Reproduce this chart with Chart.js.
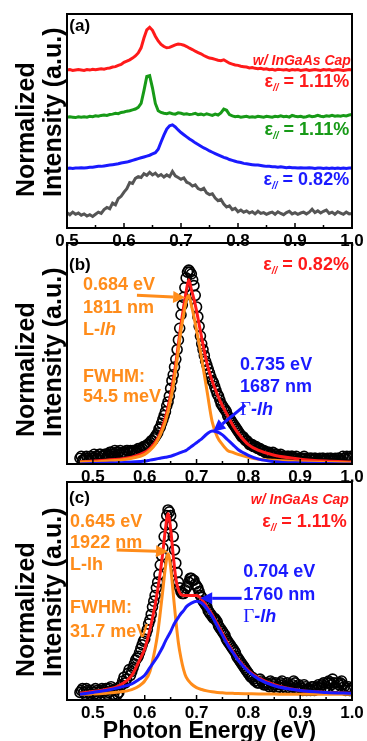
<!DOCTYPE html>
<html>
<head>
<meta charset="utf-8">
<script src="https://cdn.jsdelivr.net/npm/chart.js@4.4.1/dist/chart.umd.min.js"></script>
<style>
  html, body { margin: 0; padding: 0; background: #fff; }
  body { width: 367px; height: 741px; position: relative; overflow: hidden; }
  canvas { position: absolute; left: 0; }
</style>
</head>
<body>
<canvas id="panelA" width="367" height="260" style="top:0px"></canvas>
<canvas id="panelB" width="367" height="267" style="top:229px"></canvas>
<canvas id="panelC" width="367" height="290" style="top:468px"></canvas>
<script>
// ---- (a) PL spectra, normalized, stacked with offsets ----
const energyA = [
  0.500, 0.505, 0.510, 0.515, 0.520, 0.525, 0.530, 0.535, 0.540, 0.545,
  0.550, 0.555, 0.560, 0.565, 0.570, 0.575, 0.580, 0.585, 0.590, 0.595,
  0.600, 0.605, 0.610, 0.615, 0.620, 0.625, 0.630, 0.635, 0.640, 0.645,
  0.650, 0.655, 0.660, 0.665, 0.670, 0.675, 0.680, 0.685, 0.690, 0.695,
  0.700, 0.705, 0.710, 0.715, 0.720, 0.725, 0.730, 0.735, 0.740, 0.745,
  0.750, 0.755, 0.760, 0.765, 0.770, 0.775, 0.780, 0.785, 0.790, 0.795,
  0.800, 0.805, 0.810, 0.815, 0.820, 0.825, 0.830, 0.835, 0.840, 0.845,
  0.850, 0.855, 0.860, 0.865, 0.870, 0.875, 0.880, 0.885, 0.890, 0.895,
  0.900, 0.905, 0.910, 0.915, 0.920, 0.925, 0.930, 0.935, 0.940, 0.945,
  0.950, 0.955, 0.960, 0.965, 0.970, 0.975, 0.980, 0.985, 0.990, 0.995,
  1.000
];
const capped111 = [
  0.00, 0.01, -0.01, 0.00, 0.01, 0.00, -0.01, 0.01, 0.00, 0.02,
  0.01, 0.02, 0.03, 0.02, 0.04, 0.05, 0.07, 0.08, 0.11, 0.13,
  0.18, 0.21, 0.24, 0.28, 0.33, 0.40, 0.52, 0.75, 0.94, 1.00,
  0.93, 0.79, 0.68, 0.60, 0.55, 0.52, 0.53, 0.56, 0.59, 0.61,
  0.60, 0.58, 0.55, 0.51, 0.48, 0.44, 0.41, 0.38, 0.34, 0.31,
  0.28, 0.27, 0.25, 0.23, 0.22, 0.24, 0.20, 0.16, 0.14, 0.12,
  0.11, 0.09, 0.08, 0.07, 0.05, 0.06, 0.04, 0.03, 0.04, 0.02,
  0.03, 0.01, 0.02, 0.00, 0.02, 0.01, 0.00, 0.01, -0.01, 0.01,
  0.00, 0.01, -0.01, 0.00, 0.01, -0.01, 0.00, 0.01, 0.00, -0.01,
  0.01, 0.00, 0.01, -0.01, 0.00, 0.01, 0.00, -0.01, 0.00, 0.01,
  0.00
];
const strain111 = [
  0.00, 0.01, 0.00, -0.01, 0.01, 0.00, 0.01, 0.00, 0.02, 0.01,
  0.03, 0.02, 0.04, 0.05, 0.04, 0.06, 0.07, 0.09, 0.08, 0.11,
  0.12, 0.14, 0.15, 0.17, 0.19, 0.23, 0.32, 0.62, 0.95, 0.97,
  0.68, 0.32, 0.15, 0.11, 0.09, 0.08, 0.10, 0.08, 0.07, 0.10,
  0.09, 0.07, 0.08, 0.06, 0.07, 0.09, 0.06, 0.07, 0.05, 0.08,
  0.06, 0.04, 0.07, 0.05, 0.10, 0.19, 0.16, 0.06, 0.03, 0.01,
  0.02, 0.00, 0.01, 0.02, 0.00, 0.01, 0.00, 0.02, 0.01, 0.00,
  0.02, 0.01, 0.00, 0.02, 0.01, 0.03, 0.01, 0.02, 0.00, 0.04,
  0.02, 0.01, 0.02, 0.00, 0.01, 0.03, 0.01, 0.02, 0.04, 0.02,
  0.01, 0.03, 0.02, 0.04, 0.02, 0.03, 0.02, 0.04, 0.03, 0.05,
  0.06
];
const strain082 = [
  0.00, 0.01, 0.00, 0.01, 0.01, 0.02, 0.01, 0.02, 0.03, 0.03,
  0.04, 0.05, 0.05, 0.06, 0.07, 0.08, 0.09, 0.10, 0.11, 0.13,
  0.14, 0.15, 0.17, 0.19, 0.21, 0.23, 0.25, 0.27, 0.29, 0.31,
  0.34, 0.37, 0.45, 0.62, 0.78, 0.92, 1.00, 1.02, 0.97, 0.90,
  0.84, 0.79, 0.74, 0.69, 0.65, 0.60, 0.56, 0.52, 0.48, 0.45,
  0.41, 0.38, 0.35, 0.32, 0.29, 0.26, 0.24, 0.21, 0.19, 0.17,
  0.15, 0.14, 0.12, 0.11, 0.10, 0.09, 0.08, 0.08, 0.07, 0.06,
  0.05, 0.05, 0.04, 0.04, 0.03, 0.04, 0.03, 0.02, 0.03, 0.02,
  0.02, 0.01, 0.02, 0.01, 0.01, 0.02, 0.01, 0.00, 0.01, 0.01,
  0.00, 0.01, 0.00, 0.01, 0.00, 0.01, 0.00, 0.01, 0.00, 0.01,
  0.01
];
const unstrained = [
  0.02, -0.03, 0.03, -0.02, 0.01, -0.04, -0.01, -0.06, -0.03, -0.07,
  -0.02, 0.03, 0.00, 0.09, 0.14, 0.11, 0.24, 0.20, 0.35, 0.40,
  0.50, 0.58, 0.72, 0.70, 0.82, 0.86, 0.84, 0.93, 0.89, 0.96,
  0.90, 0.94, 0.87, 0.91, 0.85, 0.90, 0.86, 0.98, 0.88, 0.84,
  0.80, 0.83, 0.73, 0.70, 0.64, 0.67, 0.58, 0.55, 0.59, 0.48,
  0.44, 0.46, 0.36, 0.30, 0.33, 0.22, 0.15, 0.18, 0.09, 0.12,
  0.04, 0.08, 0.03, 0.06, 0.01, 0.04, -0.01, 0.05, 0.00, 0.02,
  -0.02, 0.01, 0.03, -0.02, 0.04, 0.00, -0.03, 0.02, 0.05, -0.01,
  0.02, -0.02, 0.01, 0.03, -0.01, 0.03, 0.10, 0.02, 0.06, 0.01,
  0.05, 0.08, 0.00, 0.03, -0.02, 0.04, 0.01, -0.02, 0.03, -0.01,
  0.00
];
// vertical offsets: capped 1.11%, 1.11%, 0.82%, unstrained
const offsetsA = [3.69, 2.59, 1.39, 0.34];

// ---- (b), (c) measured points and Lorentzian fits ----
const energyDots = [
  0.475, 0.480, 0.485, 0.490, 0.495, 0.500, 0.505, 0.510, 0.515, 0.520,
  0.525, 0.530, 0.535, 0.540, 0.545, 0.550, 0.555, 0.560, 0.565, 0.570,
  0.575, 0.580, 0.585, 0.590, 0.595, 0.600, 0.605, 0.610, 0.615, 0.620,
  0.625, 0.630, 0.635, 0.640, 0.645, 0.650, 0.655, 0.660, 0.665, 0.670,
  0.675, 0.680, 0.685, 0.690, 0.695, 0.700, 0.705, 0.710, 0.715, 0.720,
  0.725, 0.730, 0.735, 0.740, 0.745, 0.750, 0.755, 0.760, 0.765, 0.770,
  0.775, 0.780, 0.785, 0.790, 0.795, 0.800, 0.805, 0.810, 0.815, 0.820,
  0.825, 0.830, 0.835, 0.840, 0.845, 0.850, 0.855, 0.860, 0.865, 0.870,
  0.875, 0.880, 0.885, 0.890, 0.895, 0.900, 0.905, 0.910, 0.915, 0.920,
  0.925, 0.930, 0.935, 0.940, 0.945, 0.950, 0.955, 0.960, 0.965, 0.970,
  0.975, 0.980, 0.985, 0.990, 0.995
];
const energyDotsMid = [
  0.4775, 0.4825, 0.4875, 0.4925, 0.4975, 0.5025, 0.5075, 0.5125, 0.5175, 0.5225,
  0.5275, 0.5325, 0.5375, 0.5425, 0.5475, 0.5525, 0.5575, 0.5625, 0.5675, 0.5725,
  0.5775, 0.5825, 0.5875, 0.5925, 0.5975, 0.6025, 0.6075, 0.6125, 0.6175, 0.6225,
  0.6275, 0.6325, 0.6375, 0.6425, 0.6475, 0.6525, 0.6575, 0.6625, 0.6675, 0.6725,
  0.6775, 0.6825, 0.6875, 0.6925, 0.6975, 0.7025, 0.7075, 0.7125, 0.7175, 0.7225,
  0.7275, 0.7325, 0.7375, 0.7425, 0.7475, 0.7525, 0.7575, 0.7625, 0.7675, 0.7725,
  0.7775, 0.7825, 0.7875, 0.7925, 0.7975, 0.8025, 0.8075, 0.8125, 0.8175, 0.8225,
  0.8275, 0.8325, 0.8375, 0.8425, 0.8475, 0.8525, 0.8575, 0.8625, 0.8675, 0.8725,
  0.8775, 0.8825, 0.8875, 0.8925, 0.8975, 0.9025, 0.9075, 0.9125, 0.9175, 0.9225,
  0.9275, 0.9325, 0.9375, 0.9425, 0.9475, 0.9525, 0.9575, 0.9625, 0.9675, 0.9725,
  0.9775, 0.9825, 0.9875, 0.9925, 0.9975
];
const dotsB = [
  0.03, 0.02, 0.03, 0.03, 0.04, 0.03, 0.04, 0.04, 0.05, 0.04,
  0.05, 0.05, 0.06, 0.05, 0.06, 0.06, 0.05, 0.06, 0.07, 0.06,
  0.06, 0.07, 0.07, 0.08, 0.08, 0.09, 0.10, 0.11, 0.12, 0.14,
  0.16, 0.19, 0.23, 0.27, 0.32, 0.39, 0.46, 0.54, 0.64, 0.77,
  0.86, 0.96, 1.00, 0.98, 0.92, 0.81, 0.71, 0.62, 0.56, 0.51,
  0.47, 0.43, 0.40, 0.36, 0.33, 0.30, 0.28, 0.25, 0.23, 0.21,
  0.19, 0.17, 0.15, 0.14, 0.12, 0.11, 0.10, 0.09, 0.09, 0.08,
  0.07, 0.07, 0.06, 0.06, 0.05, 0.05, 0.05, 0.04, 0.04, 0.04,
  0.04, 0.03, 0.04, 0.03, 0.03, 0.03, 0.03, 0.03, 0.02, 0.03,
  0.02, 0.03, 0.02, 0.02, 0.03, 0.02, 0.02, 0.03, 0.02, 0.02,
  0.03, 0.02, 0.03, 0.04, 0.03
];
const dotsBMid = [
  0.04, 0.02, 0.04, 0.02, 0.03, 0.05, 0.03, 0.05, 0.04, 0.05,
  0.04, 0.06, 0.05, 0.07, 0.05, 0.07, 0.06, 0.05, 0.07, 0.07,
  0.07, 0.06, 0.08, 0.07, 0.09, 0.09, 0.10, 0.12, 0.13, 0.15,
  0.18, 0.21, 0.25, 0.30, 0.35, 0.43, 0.50, 0.59, 0.70, 0.82,
  0.91, 0.99, 0.99, 0.95, 0.87, 0.76, 0.66, 0.59, 0.53, 0.49,
  0.45, 0.42, 0.38, 0.35, 0.31, 0.29, 0.27, 0.24, 0.22, 0.20,
  0.18, 0.16, 0.14, 0.13, 0.12, 0.10, 0.10, 0.09, 0.08, 0.08,
  0.07, 0.06, 0.06, 0.05, 0.06, 0.05, 0.04, 0.05, 0.04, 0.03,
  0.04, 0.04, 0.03, 0.04, 0.02, 0.03, 0.04, 0.02, 0.03, 0.03,
  0.03, 0.02, 0.03, 0.03, 0.02, 0.03, 0.03, 0.02, 0.03, 0.03,
  0.02, 0.04, 0.03, 0.03, 0.04
];
const dotsC = [
  0.04, 0.06, 0.03, 0.05, 0.03, 0.04, 0.06, 0.03, 0.05, 0.04,
  0.06, 0.04, 0.07, 0.03, 0.06, 0.04, 0.08, 0.12, 0.11, 0.16,
  0.15, 0.19, 0.22, 0.25, 0.29, 0.32, 0.37, 0.42, 0.49, 0.55,
  0.62, 0.71, 0.80, 0.92, 1.00, 0.97, 0.86, 0.72, 0.62, 0.57,
  0.56, 0.59, 0.62, 0.64, 0.63, 0.60, 0.57, 0.54, 0.51, 0.49,
  0.46, 0.44, 0.43, 0.41, 0.38, 0.36, 0.34, 0.31, 0.29, 0.27,
  0.25, 0.22, 0.20, 0.18, 0.16, 0.14, 0.12, 0.11, 0.10, 0.09,
  0.10, 0.08, 0.09, 0.07, 0.09, 0.08, 0.06, 0.08, 0.10, 0.07,
  0.09, 0.06, 0.08, 0.09, 0.06, 0.07, 0.05, 0.07, 0.06, 0.05,
  0.07, 0.06, 0.08, 0.06, 0.09, 0.07, 0.10, 0.08, 0.09, 0.06,
  0.08, 0.10, 0.07, 0.06, 0.05
];
const dotsCMid = [
  0.05, 0.04, 0.06, 0.04, 0.05, 0.03, 0.05, 0.04, 0.06, 0.05,
  0.03, 0.06, 0.05, 0.05, 0.03, 0.07, 0.10, 0.09, 0.14, 0.13,
  0.17, 0.21, 0.23, 0.27, 0.31, 0.35, 0.40, 0.45, 0.52, 0.59,
  0.66, 0.76, 0.86, 0.97, 0.99, 0.92, 0.79, 0.67, 0.59, 0.56,
  0.58, 0.60, 0.64, 0.63, 0.61, 0.59, 0.55, 0.52, 0.50, 0.47,
  0.45, 0.43, 0.42, 0.39, 0.37, 0.35, 0.32, 0.30, 0.28, 0.26,
  0.23, 0.21, 0.19, 0.17, 0.15, 0.13, 0.12, 0.10, 0.09, 0.11,
  0.09, 0.08, 0.08, 0.10, 0.07, 0.09, 0.07, 0.09, 0.08, 0.06,
  0.08, 0.07, 0.10, 0.07, 0.08, 0.06, 0.08, 0.05, 0.06, 0.07,
  0.05, 0.07, 0.07, 0.08, 0.06, 0.09, 0.09, 0.11, 0.07, 0.09,
  0.09, 0.08, 0.05, 0.07, 0.06
];

const fitGridB = [
  0.475, 0.500, 0.525, 0.550, 0.575, 0.600, 0.610, 0.620, 0.630, 0.640,
  0.650, 0.660, 0.665, 0.670, 0.675, 0.680, 0.685, 0.690, 0.695, 0.700,
  0.705, 0.710, 0.720, 0.730, 0.740, 0.750, 0.760, 0.770, 0.780, 0.800,
  0.820, 0.850, 0.900, 0.950, 1.000
];
const totalB = [
  0.010, 0.015, 0.020, 0.025, 0.035, 0.060, 0.080, 0.110, 0.160, 0.240,
  0.360, 0.520, 0.620, 0.720, 0.810, 0.890, 0.950, 0.900, 0.850, 0.790,
  0.720, 0.650, 0.520, 0.430, 0.360, 0.300, 0.250, 0.200, 0.160, 0.100,
  0.070, 0.045, 0.025, 0.015, 0.010
];
const lLhB = [
  0.010, 0.010, 0.015, 0.020, 0.030, 0.050, 0.070, 0.100, 0.150, 0.220,
  0.330, 0.490, 0.590, 0.690, 0.770, 0.840, 0.870, 0.820, 0.760, 0.690,
  0.620, 0.540, 0.380, 0.220, 0.140, 0.100, 0.070, 0.060, 0.050, 0.035,
  0.025, 0.020, 0.012, 0.008, 0.005
];
const gLhB = [
  0.000, 0.002, 0.004, 0.006, 0.010, 0.015, 0.020, 0.025, 0.030, 0.035,
  0.040, 0.050, 0.055, 0.060, 0.065, 0.070, 0.080, 0.090, 0.100, 0.110,
  0.120, 0.130, 0.155, 0.170, 0.165, 0.150, 0.125, 0.100, 0.075, 0.045,
  0.025, 0.012, 0.005, 0.002, 0.000
];

const fitGridC = [
  0.475, 0.500, 0.525, 0.550, 0.575, 0.590, 0.600, 0.610, 0.620, 0.625,
  0.630, 0.635, 0.640, 0.645, 0.650, 0.655, 0.660, 0.665, 0.670, 0.675,
  0.680, 0.690, 0.700, 0.710, 0.720, 0.730, 0.740, 0.750, 0.760, 0.770,
  0.780, 0.800, 0.820, 0.850, 0.900, 0.950, 1.000
];
const totalC = [
  0.035, 0.045, 0.055, 0.075, 0.130, 0.210, 0.270, 0.370, 0.500, 0.580,
  0.670, 0.780, 0.900, 0.980, 0.900, 0.760, 0.640, 0.580, 0.555, 0.550,
  0.550, 0.550, 0.550, 0.530, 0.490, 0.450, 0.400, 0.350, 0.300, 0.255,
  0.215, 0.155, 0.115, 0.080, 0.050, 0.040, 0.035
];
const lLhC = [
  0.030, 0.032, 0.036, 0.042, 0.055, 0.075, 0.100, 0.150, 0.270, 0.350,
  0.460, 0.580, 0.700, 0.770, 0.700, 0.560, 0.420, 0.300, 0.220, 0.160,
  0.120, 0.085, 0.065, 0.055, 0.048, 0.043, 0.040, 0.038, 0.036, 0.035,
  0.034, 0.033, 0.032, 0.031, 0.030, 0.030, 0.030
];
const gLhC = [
  0.030, 0.040, 0.050, 0.065, 0.085, 0.110, 0.130, 0.170, 0.210, 0.230,
  0.255, 0.280, 0.310, 0.335, 0.360, 0.390, 0.415, 0.435, 0.455, 0.470,
  0.490, 0.510, 0.520, 0.510, 0.480, 0.440, 0.390, 0.340, 0.290, 0.250,
  0.210, 0.150, 0.110, 0.075, 0.050, 0.040, 0.035
];

// tick labels
const xTicks = [0.5, 0.6, 0.7, 0.8, 0.9, 1.0];
const xMinor = [0.55, 0.65, 0.75, 0.85, 0.95];

// ---- styling ----
const SANS = '"Liberation Sans", Arial, sans-serif';
const RED = '#ff1a1a', GREEN = '#179a17', BLUE = '#1a1aff', GRAY = '#555555', ORANGE = '#ff8c1a';
const F = {
  b18: 'bold 18px ' + SANS,
  bi18: 'italic bold 18px ' + SANS,
  bi14: 'italic bold 14px ' + SANS,
  sub: 'italic bold 10px ' + SANS,
  tag: 'bold 17px ' + SANS,
  tick: 'bold 17px ' + SANS,
  gamma: '19px "Liberation Serif", "Times New Roman", serif',
  ytitle: 'bold 25px ' + SANS,
  xtitle: 'bold 23px ' + SANS,
};

const eps = (val) => [
  { t: 'ε', f: F.b18 },
  { t: '//', f: F.sub, dy: 6 },
  { t: ' = ' + val, f: F.b18 },
];
const txt = (t, f) => [{ t, f: f || F.b18 }];

function pts(xs, ys, shift) {
  return xs.map((x, i) => ({ x, y: ys[i] + (shift || 0) }));
}

function drawRuns(ctx, x, y, runs, align) {
  let w = 0;
  runs.forEach(r => { ctx.font = r.f; w += ctx.measureText(r.t).width; });
  let cx = align === 'right' ? x - w : x;
  runs.forEach(r => {
    ctx.font = r.f;
    ctx.fillText(r.t, cx, y + (r.dy || 0));
    cx += ctx.measureText(r.t).width;
  });
}

function drawArrow(ctx, x1, y1, x2, y2, color) {
  const ang = Math.atan2(y2 - y1, x2 - x1);
  const hl = 12, hw = 6;
  const bx = x2 - hl * Math.cos(ang), by = y2 - hl * Math.sin(ang);
  ctx.strokeStyle = color;
  ctx.fillStyle = color;
  ctx.lineWidth = 3;
  ctx.beginPath();
  ctx.moveTo(x1, y1);
  ctx.lineTo(bx, by);
  ctx.stroke();
  ctx.beginPath();
  ctx.moveTo(x2, y2);
  ctx.lineTo(bx + hw * Math.sin(ang), by - hw * Math.cos(ang));
  ctx.lineTo(bx - hw * Math.sin(ang), by + hw * Math.cos(ang));
  ctx.closePath();
  ctx.fill();
}

// frame, inward ticks, tick labels, axis titles, arrows and in-plot labels
const decor = {
  id: 'decor',
  afterDatasetsDraw(chart, args, opts) {
    const { ctx, chartArea: a, scales: { x, y } } = chart;
    ctx.save();
    ctx.strokeStyle = '#000';
    ctx.lineWidth = 2;
    ctx.strokeRect(a.left, a.top, a.right - a.left, a.bottom - a.top);

    ctx.lineWidth = 1.5;
    const tick = (v, len) => {
      const px = x.getPixelForValue(v);
      ctx.beginPath();
      ctx.moveTo(px, a.bottom);
      ctx.lineTo(px, a.bottom - len);
      ctx.stroke();
    };
    xTicks.forEach(v => tick(v, 5));
    xMinor.forEach(v => tick(v, 3));

    ctx.fillStyle = '#000';
    ctx.font = F.tick;
    ctx.textAlign = 'center';
    ctx.textBaseline = 'middle';
    xTicks.forEach(v => ctx.fillText(v.toFixed(1), x.getPixelForValue(v), a.bottom + 13));

    if (opts.xTitle) {
      ctx.font = F.xtitle;
      ctx.textBaseline = 'alphabetic';
      ctx.fillText(opts.xTitle, (a.left + a.right) / 2, a.bottom + 38);
    }

    (opts.arrows || []).forEach(ar => {
      drawArrow(ctx, x.getPixelForValue(ar.from[0]), y.getPixelForValue(ar.from[1]),
        x.getPixelForValue(ar.to[0]), y.getPixelForValue(ar.to[1]), ar.color);
    });

    ctx.textBaseline = 'middle';
    ctx.textAlign = 'left';
    (opts.labels || []).forEach(l => {
      ctx.fillStyle = l.color || '#000';
      drawRuns(ctx, x.getPixelForValue(l.x), y.getPixelForValue(l.y), l.runs, l.align);
    });

    // rotated two-line axis title, both lines start at the same height
    ctx.fillStyle = '#000';
    ctx.font = F.ytitle;
    ctx.textBaseline = 'alphabetic';
    [['Normalized', 34], ['Intensity (a.u.)', 61]].forEach(([t, bx]) => {
      ctx.save();
      ctx.translate(bx, a.bottom - opts.titleLift);
      ctx.rotate(-Math.PI / 2);
      ctx.fillText(t, 0, 0);
      ctx.restore();
    });
    ctx.restore();
  }
};

function panel(id, o) {
  return new Chart(document.getElementById(id), {
    type: 'line',
    data: { datasets: o.datasets },
    options: {
      responsive: false,
      animation: false,
      layout: { padding: { left: 67, right: 15, top: 14, bottom: o.bottomPad } },
      plugins: {
        legend: { display: false },
        tooltip: { enabled: false },
        decor: o.decor,
      },
      scales: {
        x: { type: 'linear', display: false, min: o.xMin, max: 1.0 },
        y: { display: false, min: 0, max: o.yMax },
      },
    },
    plugins: [decor],
  });
}

const lineStyle = (color, width) => ({
  borderColor: color,
  borderWidth: width,
  pointRadius: 0,
  fill: false,
});
const dotStyle = {
  showLine: false,
  pointRadius: 5,
  pointBorderWidth: 1.6,
  borderColor: '#000',
  pointBorderColor: '#000',
  pointBackgroundColor: 'rgba(0,0,0,0)',
  order: 3,
};
const fitStyle = (color, order) => ({
  ...lineStyle(color, 3),
  cubicInterpolationMode: 'monotone',
  order,
});

// (a)
panel('panelA', {
  xMin: 0.5, yMax: 5, bottomPad: 32,
  datasets: [
    { data: pts(energyA, capped111, offsetsA[0]), ...lineStyle(RED, 3) },
    { data: pts(energyA, strain111, offsetsA[1]), ...lineStyle(GREEN, 3) },
    { data: pts(energyA, strain082, offsetsA[2]), ...lineStyle(BLUE, 3) },
    { data: pts(energyA, unstrained, offsetsA[3]), ...lineStyle(GRAY, 3) },
  ],
  decor: {
    titleLift: 31,
    labels: [
      { x: 0.504, y: 4.72, runs: txt('(a)', F.tag) },
      { x: 0.998, y: 3.91, runs: txt('w/ InGaAs Cap', F.bi14), color: RED, align: 'right' },
      { x: 0.995, y: 3.41, runs: eps('1.11%'), color: RED, align: 'right' },
      { x: 0.995, y: 2.29, runs: eps('1.11%'), color: GREEN, align: 'right' },
      { x: 0.995, y: 1.12, runs: eps('0.82%'), color: BLUE, align: 'right' },
    ],
  },
});

// (b)
panel('panelB', {
  xMin: 0.45, yMax: 1.14, bottomPad: 32,
  datasets: [
    { data: pts(fitGridB, gLhB), ...fitStyle(BLUE, 0) },
    { data: pts(fitGridB, lLhB), ...fitStyle(ORANGE, 1) },
    { data: pts(fitGridB, totalB), ...fitStyle(RED, 2) },
    { data: pts(energyDots, dotsB), ...dotStyle },
    { data: pts(energyDotsMid, dotsBMid), ...dotStyle },
  ],
  decor: {
    titleLift: 27,
    arrows: [
      { from: [0.585, 0.871], to: [0.678, 0.859], color: ORANGE },
      { from: [0.794, 0.304], to: [0.732, 0.167], color: BLUE },
    ],
    labels: [
      { x: 0.454, y: 1.026, runs: txt('(b)', F.tag) },
      { x: 0.994, y: 1.026, runs: eps('0.82%'), color: RED, align: 'right' },
      { x: 0.481, y: 0.923, runs: txt('0.684 eV'), color: ORANGE },
      { x: 0.481, y: 0.804, runs: txt('1811 nm'), color: ORANGE },
      { x: 0.481, y: 0.691, runs: [{ t: 'L-', f: F.b18 }, { t: 'lh', f: F.bi18 }], color: ORANGE },
      { x: 0.481, y: 0.448, runs: txt('FWHM:'), color: ORANGE },
      { x: 0.481, y: 0.345, runs: txt('54.5 meV'), color: ORANGE },
      { x: 0.784, y: 0.510, runs: txt('0.735 eV'), color: BLUE },
      { x: 0.784, y: 0.397, runs: txt('1687 nm'), color: BLUE },
      { x: 0.784, y: 0.278, runs: [{ t: 'Γ', f: F.gamma }, { t: '-lh', f: F.bi18 }], color: BLUE },
    ],
  },
});

// (c)
panel('panelC', {
  xMin: 0.45, yMax: 1.147, bottomPad: 58,
  datasets: [
    { data: pts(fitGridC, gLhC), ...fitStyle(BLUE, 0) },
    { data: pts(fitGridC, lLhC), ...fitStyle(ORANGE, 1) },
    { data: pts(fitGridC, totalC), ...fitStyle(RED, 2) },
    { data: pts(energyDots, dotsC), ...dotStyle },
    { data: pts(energyDotsMid, dotsCMid), ...dotStyle },
  ],
  decor: {
    titleLift: 23,
    xTitle: 'Photon Energy (eV)',
    arrows: [
      { from: [0.546, 0.789], to: [0.645, 0.781], color: ORANGE },
      { from: [0.787, 0.535], to: [0.707, 0.535], color: BLUE },
    ],
    labels: [
      { x: 0.454, y: 1.063, runs: txt('(c)', F.tag) },
      { x: 0.994, y: 1.053, runs: txt('w/ InGaAs Cap', F.bi14), color: RED, align: 'right' },
      { x: 0.990, y: 0.937, runs: eps('1.11%'), color: RED, align: 'right' },
      { x: 0.456, y: 0.937, runs: txt('0.645 eV'), color: ORANGE },
      { x: 0.456, y: 0.826, runs: txt('1922 nm'), color: ORANGE },
      { x: 0.456, y: 0.711, runs: txt('L-lh'), color: ORANGE },
      { x: 0.456, y: 0.484, runs: txt('FWHM:'), color: ORANGE },
      { x: 0.456, y: 0.358, runs: txt('31.7 meV'), color: ORANGE },
      { x: 0.790, y: 0.674, runs: txt('0.704 eV'), color: BLUE },
      { x: 0.790, y: 0.553, runs: txt('1760 nm'), color: BLUE },
      { x: 0.790, y: 0.437, runs: [{ t: 'Γ', f: F.gamma }, { t: '-lh', f: F.bi18 }], color: BLUE },
    ],
  },
});
</script>
</body>
</html>
